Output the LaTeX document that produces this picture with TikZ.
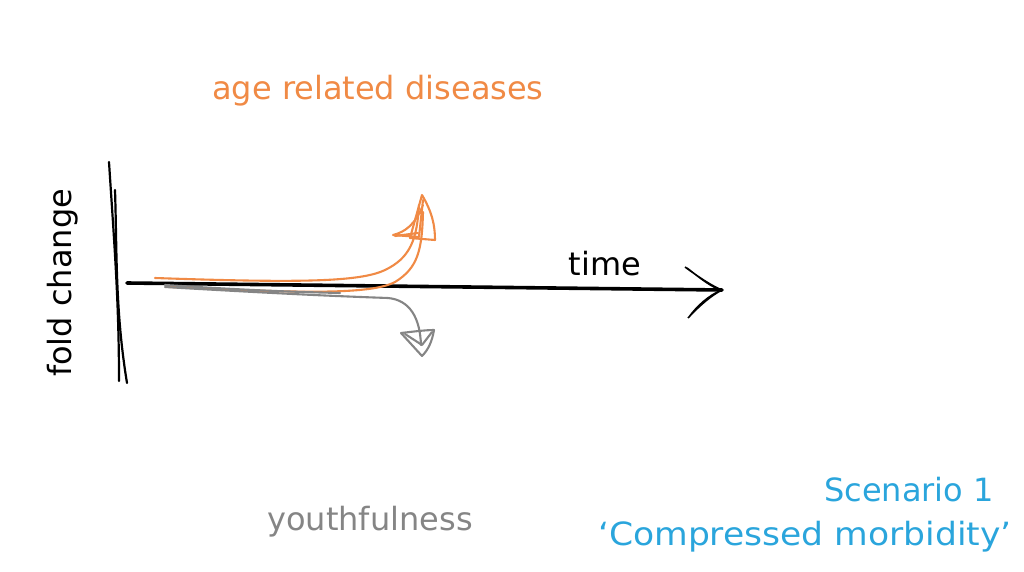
\documentclass[tikz,border=0pt]{standalone}
\usepackage{fontspec}
\setmainfont{DejaVu Sans}
\definecolor{orng}{HTML}{F08A45}
\definecolor{gry}{HTML}{858585}
\definecolor{blu}{HTML}{2AA5DC}
\begin{document}
\begin{tikzpicture}[x=1pt,y=-1pt,
  lbl/.style={inner sep=0pt, font=\fontsize{32}{38}\selectfont},
  axis/.style={line width=3.6pt, line cap=round},
  sketch/.style={line width=2.1pt, line cap=round, line join=round}]
\useasboundingbox (0,0) rectangle (1024,572);
% vertical axis
\coordinate (v1a) at (109,162); \coordinate (v1b) at (119,381);
\coordinate (v2a) at (115,190); \coordinate (v2b) at (127,383);
\draw[line width=2.2pt, line cap=round] (v1a) .. controls (114,240) and (119,300) .. (v1b);
\draw[line width=2.2pt, line cap=round] (v2a) .. controls (117,250) and (115,310) .. (v2b);
% horizontal axis
\coordinate (h0) at (127,283);
\coordinate (htip) at (722,290);
\draw[axis] (h0) -- (htip);
\draw[line width=1.6pt, fill=black] (685,267) .. controls (700,278) and (712,286) .. (htip)
   .. controls (712,288) and (700,278) .. (687,268);
\draw[line width=1.6pt, fill=black] (688,318) .. controls (700,305) and (712,295) .. (htip)
   .. controls (709,295) and (697,306) .. (689,317);
% orange curves
\begin{scope}[orng, sketch]
\draw (155,278) .. controls (300,283) and (360,282) .. (385,270) .. controls (410,258) and (417,240) .. (419,205);
\draw (170,287) .. controls (300,293) and (370,295) .. (395,282) .. controls (418,268) and (422,250) .. (423,212);
\draw (422,195) .. controls (432,212) and (435,225) .. (435,240) -- (410,238) -- cycle;
\draw (423,200) -- (419,237) -- (393,235) .. controls (405,232) and (415,225) .. (423,205);
\draw (395,236) -- (418,233);
\end{scope}
% gray curve
\begin{scope}[gry, sketch]
\draw (165,287) .. controls (300,295) and (360,297) .. (388,298) .. controls (410,300) and (420,318) .. (421,345);
\draw (165,285) .. controls (260,291) and (300,292) .. (340,293);
\draw (422,356) -- (401,333) .. controls (410,332) and (425,330) .. (434,330) .. controls (432,342) and (428,350) .. (422,356);
\draw (405,334) -- (422,345) -- (432,332);
\end{scope}
% labels
\node[lbl, orng] (ard) at (378,91) {age related diseases};
\node[lbl] (time) at (605,264) {time};
\node[lbl, rotate=90] (fc) at (63,283) {fold change};
\node[lbl, gry] (youth) at (370,522) {youthfulness};
\node[lbl, blu] (sc) at (909,490) {Scenario 1};
\node[lbl, blu, xscale=1.08] (cm) at (805,537) {‘Compressed morbidity’};
\end{tikzpicture}
\end{document}
